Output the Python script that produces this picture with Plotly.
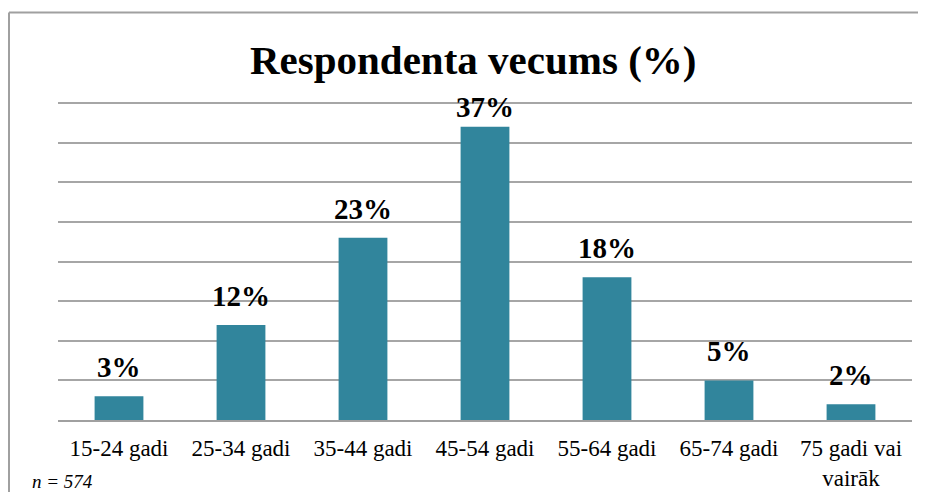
import plotly.graph_objects as go

categories = ["15-24 gadi", "25-34 gadi", "35-44 gadi", "45-54 gadi", "55-64 gadi", "65-74 gadi", "75 gadi vai<br>vairāk"]
values = [3, 12, 23, 37, 18, 5, 2]
labels = ["3%", "12%", "23%", "37%", "18%", "5%", "2%"]

OFF = 8  # page offset of the figure inside the browser window
W, H = 926 - OFF, 492 - OFF
PL, PR, PT, PB = 58, 912, 101, 420  # plot area in page pixels
L, R, T, B = PL - OFF, W - (PR - OFF), PT - OFF, H - (PB - OFF)
pw, ph = W - L - R, H - T - B
YTOP = 40 * (PB - PT) / (PB - 103)
UNIT = ph / YTOP  # pixels per percent

def px(x):
    return (x - OFF - L) / pw

def py(y):
    return (H - B - (y - OFF)) / ph

fig = go.Figure(go.Bar(
    x=categories, y=values,
    marker=dict(color="#31859C", line=dict(width=0)),
    cliponaxis=False, width=0.4,
))

def label_shift(v):
    # keep labels inside the chart area like the original (label top not above ~98px)
    natural_top = (PB - v * UNIT) - 11 - 27
    return 11 - max(0.0, 98 - natural_top)

value_labels = [
    dict(x=c, y=v, text=f"<b>{t}</b>", xref="x", yref="y", showarrow=False,
         xanchor="center", yanchor="bottom", yshift=label_shift(v),
         font=dict(family="Liberation Serif", size=29, color="black"))
    for c, v, t in zip(categories, values, labels)
]

frame = dict(color="#A0A0A0", width=2)
fig.update_layout(
    width=W, height=H,
    margin=dict(l=L, r=R, t=T, b=B, autoexpand=False),
    paper_bgcolor="white", plot_bgcolor="white",
    showlegend=False,
    xaxis=dict(showgrid=False, showline=True, linecolor="#A0A0A0", linewidth=2,
               tickfont=dict(family="Liberation Serif", size=23, color="black"),
               ticks="", ticklabelstandoff=6, automargin=False),
    yaxis=dict(range=[0, YTOP], tick0=0, dtick=5, showgrid=True, gridcolor="#A6A6A6", gridwidth=2,
               showticklabels=False, zeroline=False, showline=False, automargin=False),
    shapes=[
        dict(type="line", xref="paper", yref="paper", layer="below",
             x0=px(9), x1=px(940), y0=py(12.5), y1=py(12.5), line=frame),
        dict(type="line", xref="paper", yref="paper", layer="below",
             x0=px(9), x1=px(9), y0=py(12.5), y1=py(510), line=frame),
    ],
    annotations=value_labels + [
        dict(text="<b>Respondenta vecums (%)</b>", xref="paper", yref="paper",
             x=px(473), y=py(60), xanchor="center", yanchor="middle", showarrow=False,
             font=dict(family="Liberation Serif", size=41, color="black")),
        dict(text="<i>n = 574</i>", xref="paper", yref="paper",
             x=px(30), y=py(481), xanchor="left", yanchor="middle", showarrow=False,
             font=dict(family="Liberation Serif", size=19, color="black")),
    ],
)

fig.write_html("out.html")
